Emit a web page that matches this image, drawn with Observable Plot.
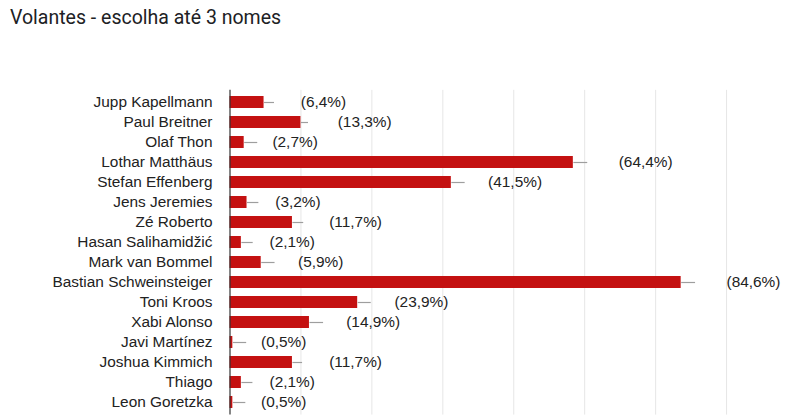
<!DOCTYPE html>
<html>
<head>
<meta charset="utf-8">
<script src="https://cdn.jsdelivr.net/npm/d3@7"></script>
<script src="https://cdn.jsdelivr.net/npm/@observablehq/plot@0.6"></script>
<style>
  html, body { margin: 0; padding: 0; background: #fff; }
  #title { height: 40px; box-sizing: border-box; padding: 5px 0 0 10px; font-family: Roboto, "Liberation Sans", sans-serif; font-size: 19.5px; line-height: 26px; color: #202124; }
  #chart svg { display: block; }
</style>
</head>
<body>
<div id="title">Volantes - escolha até 3 nomes</div>
<div id="chart"></div>
<script>
const names = ["Jupp Kapellmann", "Paul Breitner", "Olaf Thon", "Lothar Matthäus", "Stefan Effenberg", "Jens Jeremies", "Zé Roberto", "Hasan Salihamidžić", "Mark van Bommel", "Bastian Schweinsteiger", "Toni Kroos", "Xabi Alonso", "Javi Martínez", "Joshua Kimmich", "Thiago", "Leon Goretzka"];
const counts = [12, 25, 5, 121, 78, 6, 22, 4, 11, 159, 45, 28, 1, 22, 4, 1];
const percents = [6.4, 13.3, 2.7, 64.4, 41.5, 3.2, 11.7, 2.1, 5.9, 84.6, 23.9, 14.9, 0.5, 11.7, 2.1, 0.5];
const whiskers = [3.5, 2.5, 4.6, 4.9, 4.7, 4.0, 3.8, 4.0, 4.7, 4.9, 4.6, 4.8, 4.7, 3.4, 3.9, 4.4];
const gridTicks = [25, 50, 75, 100, 125, 150, 175];

const data = names.map((name, i) => ({
  name,
  count: counts[i],
  pct: percents[i],
  whisker: whiskers[i]
}));

const fmtPct = v => v.toFixed(1).replace(".", ",") + "%";
const label = d => "\u2007".repeat(String(d.count).length) + " (" + fmtPct(d.pct) + ")";

const chart = Plot.plot({
  width: 797,
  height: 376,
  marginLeft: 229.5,
  marginRight: 0,
  marginTop: 49.85,
  marginBottom: 1.4,
  style: { fontFamily: "'Liberation Sans', Arial, sans-serif", fontSize: "15.4px", color: "#222", background: "#fff" },
  x: { domain: [0, 200], axis: null },
  y: { domain: names, paddingInner: 0.38, paddingOuter: 0.19, label: null },
  marks: [
    Plot.gridX(gridTicks, { stroke: "#e6e6e6", strokeOpacity: 1 }),
    Plot.barX(data, { x: "count", y: "name", fill: "#c41111" }),
    Plot.link(data, { x1: "count", x2: d => d.count + d.whisker, y1: "name", y2: "name", stroke: "#9e9e9e", strokeWidth: 1.2 }),
    Plot.text(data, { x: "count", y: "name", text: label, textAnchor: "start", dx: 15.4, fill: "#222", fontSize: 15.4 }),
    Plot.ruleX([0], { stroke: "#333", strokeWidth: 1.2 }),
    Plot.axisY({ tickSize: 0, tickPadding: 17.5, fontSize: 15.4, fill: "#222", label: null })
  ]
});
document.getElementById("chart").appendChild(chart);
</script>
</body>
</html>
